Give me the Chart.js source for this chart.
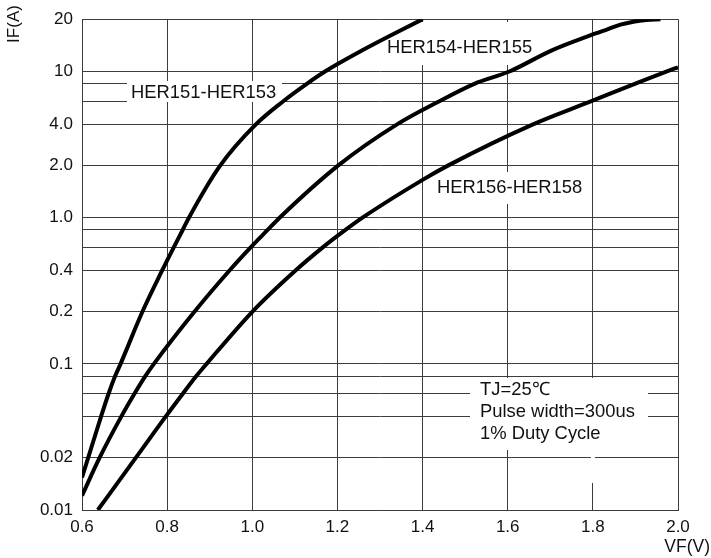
<!DOCTYPE html>
<html>
<head>
<meta charset="utf-8">
<script src="https://cdn.jsdelivr.net/npm/chart.js@4.4.1/dist/chart.umd.min.js"></script>
<style>
  html, body { margin: 0; padding: 0; background: #fff; }
  #wrap { position: relative; width: 711px; height: 558px; }
</style>
</head>
<body>
<div id="wrap"><canvas id="c" width="711" height="558"></canvas></div>
<script>
// ---------- data ----------
const xTicks = [0.6, 0.8, 1.0, 1.2, 1.4, 1.6, 1.8, 2.0];
const yTicks = [0.01, 0.02, 0.04, 0.06, 0.08, 0.1, 0.2, 0.4, 0.6, 0.8, 1, 2, 4, 6, 8, 10, 20];
const yTickLabels = ["0.01", "0.02", "", "", "", "0.1", "0.2", "0.4", "", "", "1.0", "2.0", "4.0", "", "", "10", "20"];

const seriesNames = ["HER151-HER153", "HER154-HER155", "HER156-HER158"];

const vf151 = [0.600, 0.6146, 0.6445, 0.6626, 0.6778, 0.6906, 0.7421, 0.788, 0.8155, 0.8365, 0.8511, 0.9249, 1.0078, 1.0727, 1.128, 1.1708, 1.2574, 1.400];
const if151 = [0.0154, 0.02, 0.04, 0.06, 0.08, 0.1, 0.2, 0.4, 0.6, 0.8, 1.0, 2.0, 4.0, 6.0, 8.0, 10, 13.2, 20];

const vf154 = [0.600, 0.6414, 0.6918, 0.7235, 0.7487, 0.7689, 0.8645, 0.9459, 0.9962, 1.036, 1.0642, 1.2021, 1.3391, 1.4395, 1.5216, 1.6038, 1.7024, 1.8045, 1.8341, 1.8647, 1.8953, 1.9259, 1.9588];
const if154 = [0.0121, 0.02, 0.04, 0.06, 0.08, 0.1, 0.2, 0.4, 0.6, 0.8, 1.0, 2.0, 4.0, 6.0, 8.0, 10, 13.2, 16.5, 17.5, 18.6, 19.35, 19.8, 20];

const vf156 = [0.6372, 0.7266, 0.796, 0.8372, 0.8685, 0.8927, 1.0005, 1.1009, 1.1656, 1.2188, 1.2588, 1.400, 1.4605, 1.6581, 1.7965, 1.8986, 1.9725, 2.000];
const if156 = [0.01, 0.02, 0.04, 0.06, 0.08, 0.1, 0.2, 0.4, 0.6, 0.8, 1.0, 1.65, 2.0, 4.0, 6.0, 8.0, 10, 10.58];

const noteLines = ["TJ=25\u2103", "Pulse width=300us", "1% Duty Cycle"];

// ---------- warped logarithmic scale (the printed chart's decade spacing) ----------
const WARP_M = [1, 2, 4, 6, 8, 10];
const WARP_F = [0, 0.358, 0.637, 0.797, 0.916, 1];
function warpUnits(v, min) {
  const r = Math.log10(v / min);
  let dec = Math.floor(r + 1e-9);
  let m = v / (min * Math.pow(10, dec));
  if (m >= 10 - 1e-9) { dec += 1; m = m / 10; }
  for (let i = 0; i < WARP_M.length - 1; i++) {
    if (m <= WARP_M[i + 1] + 1e-9) {
      const t = Math.log(m / WARP_M[i]) / Math.log(WARP_M[i + 1] / WARP_M[i]);
      return dec + WARP_F[i] + t * (WARP_F[i + 1] - WARP_F[i]);
    }
  }
  return dec + 1;
}
function unwarpUnits(u, min) {
  const dec = Math.floor(u);
  const f = u - dec;
  for (let i = 0; i < WARP_F.length - 1; i++) {
    if (f <= WARP_F[i + 1]) {
      const t = (f - WARP_F[i]) / (WARP_F[i + 1] - WARP_F[i]);
      const m = WARP_M[i] * Math.pow(WARP_M[i + 1] / WARP_M[i], t);
      return min * Math.pow(10, dec) * m;
    }
  }
  return min * Math.pow(10, dec + 1);
}
class WarpLogScale extends Chart.LogarithmicScale {
  getPixelForValue(value) {
    if (value === undefined || value === null || !(value > 0)) return NaN;
    const total = warpUnits(this.max, this.min);
    return this.getPixelForDecimal(warpUnits(value, this.min) / total);
  }
  getValueForPixel(pixel) {
    const total = warpUnits(this.max, this.min);
    return unwarpUnits(this.getDecimalForPixel(pixel) * total, this.min);
  }
}
WarpLogScale.id = 'warplog';
WarpLogScale.defaults = Chart.LogarithmicScale.defaults;
Chart.register(WarpLogScale);

// ---------- helpers ----------
function pts(xs, ys) { return xs.map((x, i) => ({ x: x, y: ys[i] })); }
const FONT = '"Liberation Sans", Arial, Helvetica, sans-serif';
const GRID = '#3c3c3c';

// white label boxes + texts, drawn over the grid and under the curves
const labelPlugin = {
  id: 'labels',
  beforeDatasetsDraw(chart) {
    const ctx = chart.ctx;
    ctx.save();
    ctx.fillStyle = '#fff';
    ctx.fillRect(127, 81, 155, 21);      // HER151-HER153
    ctx.fillRect(384, 22, 152, 43);      // HER154-HER155
    ctx.fillRect(434, 172, 152, 32);     // HER156-HER158
    ctx.fillRect(470, 378, 178, 72);     // note block
    const x18 = chart.scales.x.getPixelForValue(1.8);
    ctx.fillRect(x18 - 2, 450, 4, 33);
    ctx.restore();

    ctx.save();
    ctx.fillStyle = '#111';
    ctx.textBaseline = 'middle';
    ctx.textAlign = 'left';
    ctx.font = '18.4px ' + FONT;
    ctx.fillText(seriesNames[0], 131, 93);
    ctx.fillText(seriesNames[1], 387, 47.5);
    ctx.fillText(seriesNames[2], 437, 188);
    ctx.fillText(noteLines[0], 480, 390);
    ctx.fillText(noteLines[1], 480, 412);
    ctx.fillText(noteLines[2], 480, 433.5);
    ctx.restore();
  },
  afterDraw(chart) {
    const ctx = chart.ctx;
    ctx.save();
    ctx.fillStyle = '#111';
    ctx.font = '17.5px ' + FONT;
    ctx.textBaseline = 'middle';
    ctx.textAlign = 'right';
    ctx.fillText('VF(V)', 710, 547);
    ctx.font = '17px ' + FONT;
    ctx.translate(14, 24);
    ctx.rotate(-Math.PI / 2);
    ctx.textAlign = 'center';
    ctx.fillText('IF(A)', 0, 0);
    ctx.restore();
  }
};

const lineStyle = {
  borderColor: '#000',
  borderWidth: 4,
  pointRadius: 0,
  fill: false,
  cubicInterpolationMode: 'monotone',
  borderCapStyle: 'butt'
};

new Chart(document.getElementById('c'), {
  type: 'line',
  data: {
    datasets: [
      Object.assign({ label: seriesNames[0], data: pts(vf151, if151) }, lineStyle),
      Object.assign({ label: seriesNames[1], data: pts(vf154, if154) }, lineStyle),
      Object.assign({ label: seriesNames[2], data: pts(vf156, if156) }, lineStyle)
    ]
  },
  options: {
    responsive: false,
    animation: false,
    devicePixelRatio: 1,
    layout: { padding: { top: 19, right: 33, left: 0, bottom: 0 } },
    plugins: { legend: { display: false }, tooltip: { enabled: false } },
    scales: {
      x: {
        type: 'linear',
        min: 0.6, max: 2.0,
        afterBuildTicks: s => { s.ticks = xTicks.map(v => ({ value: v })); },
        afterFit: s => { s.height = 48; },
        grid: { color: GRID, lineWidth: 1, drawTicks: false },
        border: { color: GRID, width: 1 },
        ticks: {
          autoSkip: false, maxRotation: 0, padding: 7,
          color: '#111', font: { family: FONT, size: 17 },
          callback: v => Number(v).toFixed(1)
        }
      },
      y: {
        type: 'warplog',
        min: 0.01, max: 20,
        afterBuildTicks: s => { s.ticks = yTicks.map(v => ({ value: v })); },
        afterFit: s => { s.width = 82; },
        grid: { color: GRID, lineWidth: 1, drawTicks: false },
        border: { color: GRID, width: 1 },
        ticks: {
          autoSkip: false, padding: 9,
          color: '#111', font: { family: FONT, size: 17 },
          callback: (v) => { const i = yTicks.indexOf(v); return i >= 0 ? yTickLabels[i] : ''; }
        }
      }
    }
  },
  plugins: [labelPlugin]
});
</script>
</body>
</html>
